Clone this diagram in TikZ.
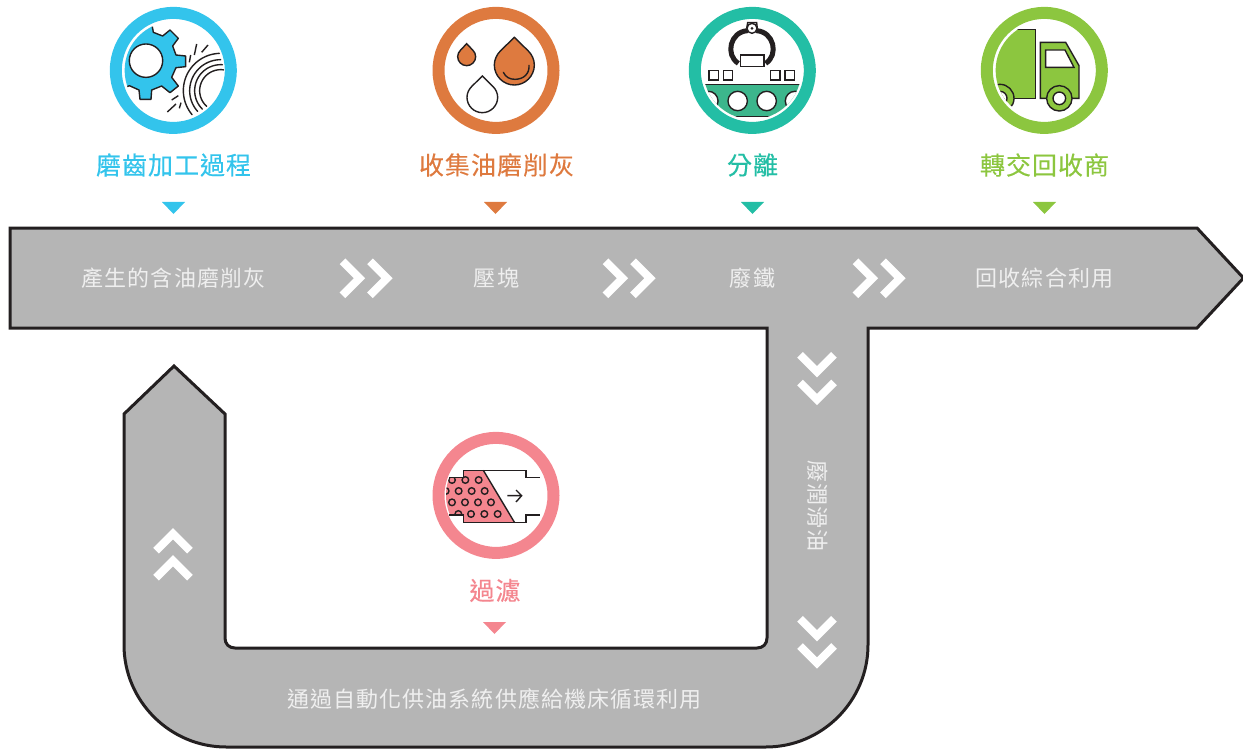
\documentclass[tikz,border=0pt]{standalone}
\usepackage{fontspec}
\setmainfont{Noto Sans CJK TC}
\newfontfamily\lblfont[FakeBold=0.35,LetterSpace=4]{Noto Sans CJK TC}
\newfontfamily\bodyfont[LetterSpace=5]{Noto Sans CJK TC}
\definecolor{cblue}{HTML}{33C4EC}
\definecolor{corange}{HTML}{DE7A3F}
\definecolor{cteal}{HTML}{23BEA5}
\definecolor{cgreen}{HTML}{8CC63F}
\definecolor{cpink}{HTML}{F4868F}
\definecolor{cconv}{HTML}{3CB68C}
\definecolor{cgray}{HTML}{B5B5B5}
\definecolor{cink}{HTML}{231F20}
\definecolor{cbody}{HTML}{EFEFEF}
\tikzset{
  ring/.style={line width=12pt,draw=#1,fill=white},
  lbl/.style={text=#1,font=\lblfont\fontsize{25}{25}\selectfont,inner sep=0pt},
  body/.style={text=cbody,font=\bodyfont\fontsize{22}{22}\selectfont,inner sep=0pt},
  tri/.style={fill=#1,draw=none},
  chev/.style={draw=white,line width=8pt,miter limit=10,line cap=butt},
  ink/.style={draw=cink,line width=1.4pt},
  zoomed/.style={x=0.33333pt,y=-0.33333pt},
}
\newcommand{\dropath}[4]{% cx cy r h (zoomed units)
  ({#1},{#2-#4}) -- ({#1+.7*#3},{#2-.7*#3})
  .. controls ({#1+.88*#3},{#2-.52*#3}) and ({#1+#3},{#2-.27*#3}) .. ({#1+#3},{#2})
  .. controls ({#1+#3},{#2+.55*#3}) and ({#1+.55*#3},{#2+#3}) .. ({#1},{#2+#3})
  .. controls ({#1-.55*#3},{#2+#3}) and ({#1-#3},{#2+.55*#3}) .. ({#1-#3},{#2})
  .. controls ({#1-#3},{#2-.27*#3}) and ({#1-.88*#3},{#2-.52*#3}) .. ({#1-.7*#3},{#2-.7*#3}) -- cycle}
\newcommand{\tridown}[3]{\fill[tri=#3] ({#1-11.5},{#2-6}) -- ({#1+11.5},{#2-6}) -- (#1,{#2+6}) -- cycle;}
\newcommand{\chevright}[2]{\draw[chev] ({#1-8.5},{#2-17}) -- ({#1+8.5},#2) -- ({#1-8.5},{#2+17});}
\newcommand{\chevdown}[2]{\draw[chev] ({#1-17},{#2-8.5}) -- (#1,{#2+8.5}) -- ({#1+17},{#2-8.5});}
\newcommand{\chevup}[2]{\draw[chev] ({#1-17},{#2+8.5}) -- (#1,{#2-8.5}) -- ({#1+17},{#2+8.5});}
\newcommand{\sparkarc}[3]{\draw[ink,line cap=round] plot[domain=#2:#3,samples=30,smooth] ({392+#1*cos(\x)},{272-#1*sin(\x)});}
\begin{document}
\begin{tikzpicture}[x=1pt,y=-1pt]
\useasboundingbox (0,0) rectangle (1243,749);
% band
\draw[fill=cgray,draw=cink,line width=3pt,line join=miter]
  (10,228) -- (1197,228) -- (1243.5,278) -- (1197,328) -- (868,328) -- (868,645)
  .. controls (868,701) and (822,747) .. (766,747) -- (226,747)
  .. controls (170,747) and (124,701) .. (124,645) -- (124,414) -- (174,366) -- (225,414)
  -- (225,638) .. controls (225,644) and (229,648) .. (235,648) -- (757,648)
  .. controls (763,648) and (767,644) .. (767,638) -- (767,328) -- (10,328) -- cycle;
% rings
\draw[ring=cblue] (173.3,70.4) circle[radius=57.5pt];
\draw[ring=corange] (496,70.4) circle[radius=57.5pt];
\draw[ring=cteal] (752.3,70.4) circle[radius=57.5pt];
\draw[ring=cgreen] (1044.3,70.4) circle[radius=57.5pt];
\draw[ring=cpink] (496,495.4) circle[radius=57.5pt];
% gear icon
\begin{scope}[shift={(90,0)},zoomed]
  \begin{scope}
    \clip (250,211) circle[radius=48.7pt];
    \fill[cblue] (187,80) -- (190,97) -- (218,108) -- (240,90) -- (265,115) -- (248,138) -- (258,165) -- (287,168) -- (287,200) -- (258,203) -- (245,232) -- (265,258) -- (240,278) -- (215,258) -- (185,270) -- (183,298) -- (150,298) -- (147,270) -- (118,257) -- (80,260) -- (80,60) -- cycle;
  \end{scope}
  \draw[ink,line join=round] (187,80) -- (190,97) -- (218,108) -- (240,90) -- (265,115) -- (248,138) -- (258,165) -- (287,168) -- (287,200) -- (258,203) -- (245,232) -- (265,258) -- (240,278) -- (215,258) -- (185,270) -- (183,298) -- (150,298) -- (147,270) -- (118,257) -- (112,260);
  \draw[ink,fill=white] (168,182) circle[radius=16.7pt];
  \sparkarc{112}{92}{220}
  \sparkarc{93}{90}{222}
  \sparkarc{78}{86}{225}
  \sparkarc{63}{82}{228}
  \draw[ink] (298,187) -- (302,165) (313,165) -- (320,132) (335,157) -- (354,135) (245,300) -- (265,287) (232,336) -- (258,312) (268,325) -- (273,308);
\end{scope}
% drops icon
\begin{scope}[shift={(415,0)},zoomed]
  \draw[ink,fill=corange,line join=miter] \dropath{298}{195}{60}{83};
  \draw[ink,fill=corange] \dropath{155}{170}{27}{39};
  \draw[ink,fill=white] \dropath{202}{292}{46}{64};
  \draw[ink,line cap=round] (265,217) .. controls (272,232) and (285,238) .. (300,238) .. controls (325,238) and (344,222) .. (342,196);
\end{scope}
% separator icon
\begin{scope}[shift={(675,0)},zoomed]
  \draw[cink,line width=5pt] (190,190) .. controls (150,165) and (165,95) .. (218,92);
  \draw[cink,line width=5pt] (272,190) .. controls (312,165) and (297,95) .. (244,92);
  \draw[ink,fill=white] (215,85) -- (218,68) -- (245,68) -- (247,85);
  \draw[ink,fill=white] (231,85) circle[radius=5pt];
  \fill[cink] (231,85) circle[radius=1.5pt];
  \draw[ink,fill=white] (197,165) rectangle (267,200);
  \draw[ink] (102,212) rectangle (130,240) (145,212) rectangle (173,240) (287,212) rectangle (315,240) (330,212) rectangle (358,240);
  \begin{scope}
    \clip (232,211) circle[radius=49pt];
    \fill[cconv] (80,253) rectangle (390,349);
    \draw[ink,fill=white] (188,303) circle[radius=9.7pt] (275,303) circle[radius=9.7pt] (100,303) circle[radius=9.7pt] (360,303) circle[radius=9.7pt];
    \draw[ink] (80,253) -- (390,253) (80,349) -- (390,349);
  \end{scope}
\end{scope}
% truck icon
\begin{scope}[shift={(965,0)},zoomed]
  \begin{scope}
    \clip (238,211) circle[radius=48.7pt];
    \draw[ink,fill=cgreen] (80,88) -- (212,88) -- (212,295) -- (80,295) -- cycle;
    \draw[ink,fill=cgreen] (105,295) circle[radius=14pt];
    \draw[ink,fill=white] (105,295) circle[radius=7pt];
  \end{scope}
  \draw[ink,fill=cgreen,line join=miter] (226,127) -- (302,127) -- (342,197) -- (342,295) -- (226,295) -- cycle;
  \draw[ink,fill=white] (242,150) -- (300,150) -- (327,202) -- (242,202) -- cycle;
  \draw[ink,fill=cgreen] (283,295) circle[radius=12.7pt];
  \draw[ink,fill=white] (283,295) circle[radius=6.3pt];
\end{scope}
% filter icon
\begin{scope}[shift={(420,425)},zoomed]
  \begin{scope}
    \clip (228,211) circle[radius=50pt];
    \fill[cpink] (70,158) -- (130,158) -- (130,136) -- (190,136) -- (284,293) -- (130,293) -- (130,270) -- (70,270) -- cycle;
    \clip (70,158) -- (130,158) -- (130,136) -- (190,136) -- (284,293) -- (130,293) -- (130,270) -- (70,270) -- cycle;
    \foreach \p in {(96,165),(136,165),(176,165),(77,198),(116,198),(155,198),(194,198),(96,232),(135,232),(174,232),(213,232),(115,267),(153,267),(193,267),(233,267)}
      \draw[ink] \p circle[radius=3.3pt];
  \end{scope}
  \draw[ink,line join=miter] (87,158) -- (130,158) -- (130,136) -- (318,136) -- (318,158) -- (360,158);
  \draw[ink,line join=miter] (88,270) -- (130,270) -- (130,293) -- (318,293) -- (318,270) -- (360,270);
  \draw[ink] (190,136) -- (284,293);
  \draw[ink] (262,212) -- (305,212) (288,195) -- (305,212) -- (288,231);
\end{scope}
% labels
\node[lbl=cblue] (l1) at (173.5,165) {磨齒加工過程};
\node[lbl=corange] (l2) at (496.5,165) {收集油磨削灰};
\node[lbl=cteal] (l3) at (752.5,165) {分離};
\node[lbl=cgreen] (l4) at (1044.5,165) {轉交回收商};
\node[lbl=cpink] (l5) at (495,590.5) {過濾};
\tridown{173.5}{208}{cblue}
\tridown{495.5}{208}{corange}
\tridown{752.5}{208}{cteal}
\tridown{1044.5}{208}{cgreen}
\tridown{494.5}{628}{cpink}
% band text
\node[body] (t1) at (173.5,278.5) {產生的含油磨削灰};
\node[body] (t2) at (496.5,278.5) {壓塊};
\node[body] (t3) at (752.5,278.5) {廢鐵};
\node[body] (t4) at (1044.5,278.5) {回收綜合利用};
\node[body,rotate=-90] (t5) at (818,506) {廢潤滑油};
\node[body] (t6) at (494.5,699) {通過自動化供油系統供應給機床循環利用};
% chevrons
\chevright{351}{278.3}\chevright{378.5}{278.3}
\chevright{614}{278.3}\chevright{641.5}{278.3}
\chevright{864}{278.3}\chevright{891.5}{278.3}
\chevdown{817}{363.3}\chevdown{817}{391}
\chevdown{817}{627.3}\chevdown{817}{654.5}
\chevup{173}{542.2}\chevup{173}{569.2}
\end{tikzpicture}
\end{document}
